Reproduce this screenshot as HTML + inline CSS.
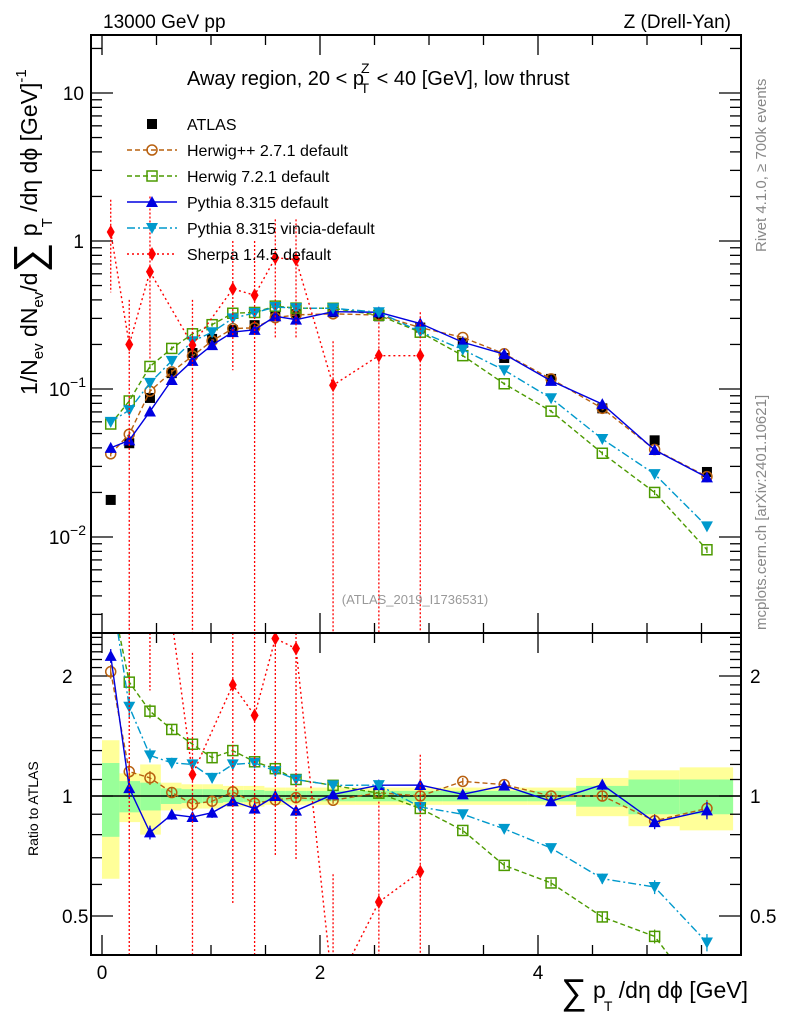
<!DOCTYPE html>
<html><head><meta charset="utf-8"><style>
html,body{margin:0;padding:0;background:#fff;overflow:hidden;width:786px;height:1024px;}
svg{display:block;font-family:"Liberation Sans",sans-serif;}
</style></head><body>
<svg id="chart" width="786" height="1024" viewBox="0 0 786 1024" xmlns="http://www.w3.org/2000/svg" overflow="hidden">
<defs>
<clipPath id="clipMain"><rect x="91" y="35" width="650" height="598"/></clipPath>
<clipPath id="clipRatio"><rect x="91" y="633" width="650" height="322"/></clipPath>
</defs>
<g id="bands" clip-path="url(#clipRatio)"></g>
<g id="ticks"></g>
<g id="mainMarks" clip-path="url(#clipMain)"></g>
<g id="ratioMarks" clip-path="url(#clipRatio)"></g>
<rect x="91" y="35" width="650" height="598" fill="none" stroke="#000" stroke-width="2"/>
<rect x="91" y="633" width="650" height="322" fill="none" stroke="#000" stroke-width="2"/>
<g id="labels" font-size="19">
<text x="103" y="28">13000 GeV pp</text>
<text x="731" y="28" text-anchor="end">Z (Drell-Yan)</text>
<text x="187" y="85" font-size="20">Away region, 20 &lt; p<tspan font-size="14" dy="-12" dx="-3">Z</tspan><tspan font-size="14" dy="20" dx="-9">T</tspan><tspan dy="-8" dx="2"> &lt; 40 [GeV], low thrust</tspan></text>
<text x="415" y="604" font-size="13" fill="#999" text-anchor="middle">(ATLAS_2019_I1736531)</text>
<text transform="translate(766,252) rotate(-90)" font-size="15" fill="#888">Rivet 4.1.0, ≥ 700k events</text>
<text transform="translate(766,630) rotate(-90)" font-size="15" fill="#888">mcplots.cern.ch [arXiv:2401.10621]</text>
<text transform="translate(37,395) rotate(-90)" font-size="23">1/N<tspan font-size="15" dy="6">ev</tspan><tspan dy="-6"> dN</tspan><tspan font-size="15" dy="6">ev</tspan><tspan dy="-6">/d</tspan><tspan font-size="42" dy="6">∑</tspan><tspan dy="-6"> p</tspan><tspan font-size="15" dy="15" dx="-4">T</tspan><tspan dy="-15"> /dη dϕ  [GeV]</tspan><tspan font-size="15" dy="-11">-1</tspan></text>
<text transform="translate(38,856) rotate(-90)" font-size="14">Ratio to ATLAS</text>
<text x="748" y="998" font-size="23" text-anchor="end"><tspan font-size="36" dy="6">∑</tspan><tspan dy="-6"> p</tspan><tspan font-size="14" dy="13" dx="-2">T</tspan><tspan dy="-13"> /dη dϕ [GeV]</tspan></text>
</g>
<g id="legend" font-size="16"></g>
</svg>
<script>
const categories = [0.08,0.25,0.44,0.64,0.83,1.01,1.2,1.4,1.59,1.78,2.12,2.54,2.92,3.31,3.69,4.12,4.59,5.07,5.55];
const binEdges = [0,0.16,0.35,0.54,0.73,0.92,1.11,1.3,1.49,1.68,1.88,2.33,2.73,3.12,3.5,3.9,4.35,4.83,5.3,5.79];
const atlas = [0.0178,0.043,0.087,0.128,0.175,0.218,0.25,0.27,0.31,0.32,0.33,0.31,0.26,0.205,0.162,0.117,0.074,0.045,0.0275];
const herwigpp = [0.0365,0.0495,0.0966,0.1306,0.167,0.2115,0.256,0.259,0.303,0.317,0.322,0.316,0.26,0.223,0.173,0.117,0.074,0.039,0.0256];
const herwig7 = [0.058,0.083,0.142,0.188,0.236,0.272,0.325,0.329,0.363,0.352,0.351,0.315,0.242,0.168,0.1085,0.0708,0.0368,0.02,0.0082];
const pythia = [0.040,0.045,0.0705,0.115,0.155,0.198,0.2425,0.251,0.31,0.294,0.333,0.33,0.277,0.207,0.172,0.1135,0.079,0.0387,0.0253];
const vincia = [0.060,0.072,0.11,0.155,0.21,0.242,0.30,0.327,0.358,0.352,0.351,0.33,0.244,0.1845,0.134,0.0866,0.0459,0.0266,0.0118];
const sherpa = [1.15,0.20,0.62,null,0.198,null,0.475,0.43,0.77,0.75,0.106,0.168,0.168,null,null,null,null,null,null];
const sherpaHi = [1.9,0.4,2.0,null,0.4,null,1.0,1.0,1.4,1.4,0.21,0.3,0.33,null,null,null,null,null,null];
const sherpaLo = [0.45,0.001,0.16,null,0.001,null,0.134,0.001,0.22,0.22,0.001,0.001,0.001,null,null,null,null,null,null];
const greenErr = [0.21,0.09,0.08,0.045,0.04,0.04,0.035,0.035,0.03,0.03,0.03,0.03,0.03,0.03,0.03,0.03,0.06,0.1,0.1];
const yellowErr = [0.38,0.14,0.2,0.08,0.07,0.07,0.06,0.06,0.05,0.05,0.05,0.05,0.05,0.05,0.05,0.05,0.11,0.16,0.18];
const mcRelErr = [0.04,0.06,0.04,0.03,0.03,0.03,0.03,0.03,0.03,0.03,0.02,0.02,0.02,0.02,0.02,0.02,0.03,0.04,0.05];
const mainTickLabels = ["10","1","10^-1","10^-2"];
const ratioTickLabels = ["2","1","0.5"];
const xTickLabels = ["0","2","4"];

const NS="http://www.w3.org/2000/svg";
const MAIN=[35,633], RATIO=[633,955];
function px(x){return 102+109*x;}
function py(v){return 241-148*Math.log10(v);}
function ry(r){return 796-120*Math.log2(r);}
function cl(y,R){return Math.max(R[0],Math.min(R[1],y));}
function mk(tag,attrs,parent){const e=document.createElementNS(NS,tag);for(const k in attrs)e.setAttribute(k,attrs[k]);parent.appendChild(e);return e;}
// clip a polyline in y to range R, returning list of runs
function clipRuns(pts,R){
  const runs=[];let cur=[];
  for(let i=0;i+1<pts.length;i++){
    let [x0,y0]=pts[i],[x1,y1]=pts[i+1];
    let t0=0,t1=1;const dy=y1-y0;
    if(dy===0){if(y0<R[0]||y0>R[1]){if(cur.length){runs.push(cur);cur=[];}continue;}}
    else{
      let ta=(R[0]-y0)/dy,tb=(R[1]-y0)/dy;if(ta>tb){const t=ta;ta=tb;tb=t;}
      t0=Math.max(0,ta);t1=Math.min(1,tb);
      if(t0>t1){if(cur.length){runs.push(cur);cur=[];}continue;}
    }
    const a=[x0+(x1-x0)*t0,y0+dy*t0],b=[x0+(x1-x0)*t1,y0+dy*t1];
    if(t0>0&&cur.length){runs.push(cur);cur=[];}
    if(!cur.length)cur.push(a);
    cur.push(b);
    if(t1<1){runs.push(cur);cur=[];}
  }
  if(cur.length)runs.push(cur);
  return runs;
}

const bandsG=document.getElementById('bands');
for(let i=0;i<categories.length;i++){
  const x0=px(binEdges[i]),x1=px(binEdges[i+1]);
  const ya=cl(ry(1+yellowErr[i]),RATIO),yb2=cl(ry(1-yellowErr[i]),RATIO);
  const yb=mk('rect',{x:x0,y:ya,width:x1-x0,height:yb2-ya,fill:'#ffff99'},bandsG);
  
  
  const ga=cl(ry(1+greenErr[i]),RATIO),gb2=cl(ry(1-greenErr[i]),RATIO);
  const gb=mk('rect',{x:x0,y:ga,width:x1-x0,height:gb2-ga,fill:'#99ff99'},bandsG);
  
  
}
const unity=mk('line',{x1:91,x2:741,y1:ry(1),y2:ry(1),stroke:'#000','stroke-width':1.5},bandsG);



const tg=document.getElementById('ticks');
function tick(x1,y1,x2,y2){mk('line',{x1:x1,y1:y1,x2:x2,y2:y2,stroke:'#000','stroke-width':1.3},tg);}
function txt(parent,x,y,s,anchor,size){const t=mk('text',{x:x,y:y,'text-anchor':anchor,'font-size':size},parent);t.textContent=s;return t;}
for(let d=-3;d<=1;d++){for(let m=1;m<=9;m++){const v=m*Math.pow(10,d);const y=py(v);if(y<35||y>633)continue;const L=m===1?22:11;tick(91,y,91+L,y);tick(741,y,741-L,y);}}
const mainTickVals=[10,1,0.1,0.01];
mainTickVals.forEach((v,i)=>{const lab=mainTickLabels[i];let t;
  if(lab.indexOf('^')>=0){const p=lab.split('^');t=mk('text',{x:86,y:py(v)+7,'text-anchor':'end','font-size':19},tg);t.textContent=p[0];const s=mk('tspan',{dy:-9,'font-size':14},t);s.textContent=p[1].replace('-','−');}
  else t=txt(tg,84,py(v)+7,lab,'end',19);
  
  });
for(let r=0.4;r<=2.6;r+=0.1){const y=ry(r);if(y<633||y>955)continue;const maj=[0.5,1,2].some(m=>Math.abs(m-r)<1e-6);const L=maj?22:11;tick(91,y,91+L,y);tick(741,y,741-L,y);}
[2,1,0.5].forEach((v,i)=>{const t=txt(tg,62,ry(v)+7,ratioTickLabels[i],'start',19);
  
  
  const t2=txt(tg,750,ry(v)+7,ratioTickLabels[i],'start',19);
  
  });
for(let k=0;k<=11;k++){const x=k*0.5;const maj=(k%4===0);const L=maj?20:10;const X=px(x);tick(X,35,X,35+L);tick(X,633,X,633-L);tick(X,633,X,633+L);tick(X,955,X,955-L);}
[0,2,4].forEach((v,i)=>{const t=txt(tg,px(v),979,xTickLabels[i],'middle',19);
  
  });

function marker(g,type,x,y,color){
  let e;
  if(type==='sq')e=mk('rect',{x:x-5,y:y-5,width:10,height:10,fill:'#000'},g);
  else if(type==='circ')e=mk('circle',{cx:x,cy:y,r:5,fill:'none',stroke:color,'stroke-width':1.5},g);
  else if(type==='osq')e=mk('rect',{x:x-5,y:y-5,width:10,height:10,fill:'none',stroke:color,'stroke-width':1.5},g);
  else if(type==='tup')e=mk('path',{d:'M'+x+','+(y-6)+'L'+(x+6)+','+(y+5)+'L'+(x-6)+','+(y+5)+'Z',fill:color},g);
  else if(type==='tdn')e=mk('path',{d:'M'+x+','+(y+6)+'L'+(x+6)+','+(y-5)+'L'+(x-6)+','+(y-5)+'Z',fill:color},g);
  else e=mk('path',{d:'M'+x+','+(y-7)+'L'+(x+4)+','+y+'L'+x+','+(y+7)+'L'+(x-4)+','+y+'Z',fill:color},g);
  return e;
}
const series=[
 {name:'herwigpp',vals:herwigpp,color:'#b8600f',dash:'5,3',type:'circ'},
 {name:'herwig7',vals:herwig7,color:'#4c9a00',dash:'5,3',type:'osq'},
 {name:'pythia',vals:pythia,color:'#0000e0',dash:'',type:'tup'},
 {name:'vincia',vals:vincia,color:'#0099cc',dash:'8,3,2,3',type:'tdn'},
 {name:'sherpa',vals:sherpa,color:'#ff0000',dash:'2,3',type:'dia'}
];
const mg=document.getElementById('mainMarks'), rg=document.getElementById('ratioMarks');
atlas.forEach((v,i)=>{const m=marker(mg,'sq',px(categories[i]),py(v));
  
  });
function inR(y,R){return y>=R[0]-4&&y<=R[1]+4;}
series.forEach(s=>{
  const pm=[],pr=[];
  s.vals.forEach((v,i)=>{if(v==null)return;pm.push([px(categories[i]),py(v)]);pr.push([px(categories[i]),ry(v/atlas[i])]);});
  clipRuns(pm,MAIN).forEach(run=>{
    const lm=mk('polyline',{points:run.map(p=>p.join(',')).join(' '),fill:'none',stroke:s.color,'stroke-width':1.4,'stroke-dasharray':s.dash||'none'},mg);
    
    
  });
  clipRuns(pr,RATIO).forEach(run=>{
    const lr=mk('polyline',{points:run.map(p=>p.join(',')).join(' '),fill:'none',stroke:s.color,'stroke-width':1.4,'stroke-dasharray':s.dash||'none'},rg);
    
    
  });
  s.vals.forEach((v,i)=>{if(v==null)return;const X=px(categories[i]);
    let hi,lo;
    if(s.name==='sherpa'){hi=sherpaHi[i];lo=sherpaLo[i];}else{hi=v*(1+mcRelErr[i]);lo=v*(1-mcRelErr[i]);}
    const dash=s.name==='sherpa'?'2,2':'none';
    const a1=cl(py(hi),MAIN),a2=cl(py(lo),MAIN);
    if(a2>a1){
      const eb=mk('line',{x1:X,x2:X,y1:a1,y2:a2,stroke:s.color,'stroke-width':1.3,'stroke-dasharray':dash},mg);
      
      
    }
    const b1=cl(ry(hi/atlas[i]),RATIO),b2=cl(ry(lo/atlas[i]),RATIO);
    if(b2>b1){
      const eb2=mk('line',{x1:X,x2:X,y1:b1,y2:b2,stroke:s.color,'stroke-width':1.3,'stroke-dasharray':dash},rg);
      
      
    }
    const ym=py(v);
    if(inR(ym,MAIN)){
      const m=marker(mg,s.type,X,ym,s.color);
      
      
    }
    const yr=ry(v/atlas[i]);
    if(inR(yr,RATIO)){
      const m2=marker(rg,s.type,X,yr,s.color);
      
      
    }
  });
});
const lg=document.getElementById('legend');
const legNames=['ATLAS','Herwig++ 2.7.1 default','Herwig 7.2.1 default','Pythia 8.315 default','Pythia 8.315 vincia-default','Sherpa 1.4.5 default'];
legNames.forEach((n,i)=>{const y=124+26*i;
  let m;
  if(i===0){m=marker(lg,'sq',152,y);}
  else{const s=series[i-1];mk('line',{x1:127,x2:177,y1:y,y2:y,stroke:s.color,'stroke-width':1.4,'stroke-dasharray':s.dash||'none'},lg);
    m=marker(lg,s.type,152,y,s.color);}
  
  
  const t=txt(lg,187,y+6,n,'start',16);
  
  
});
</script>
</body></html>
